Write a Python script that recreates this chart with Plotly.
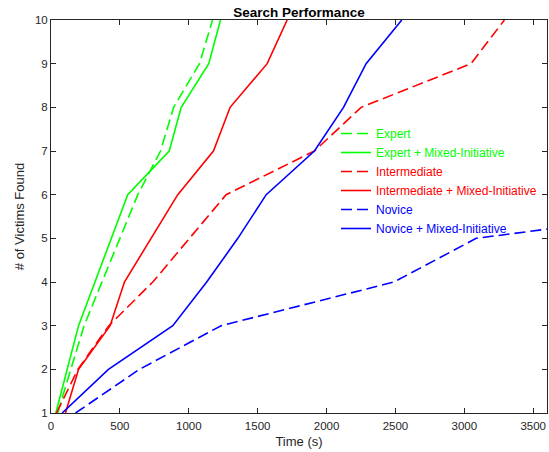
import plotly.graph_objects as go

# ---- data ----
expert_x = [48, 146, 240, 630, 795, 890, 1078, 1172]
expert_y = [1, 2, 3, 6, 7, 8, 9, 10]

expert_mi_x = [35, 200, 557, 858, 945, 1145, 1230]
expert_mi_y = [1, 3, 6, 7, 8, 9, 10]

inter_x = [40, 195, 420, 739, 1005, 1271, 1912, 2251, 3049, 3291]
inter_y = [1, 2, 3, 4, 5, 6, 7, 8, 9, 10]

inter_mi_x = [105, 200, 429, 533, 920, 1179, 1300, 1569, 1714]
inter_mi_y = [1, 2, 3, 4, 6, 7, 8, 9, 10]

novice_x = [178, 642, 1235, 2490, 3086, 3600]
novice_y = [1, 2, 3, 4, 5, 5.21]

novice_mi_x = [81, 417, 884, 1130, 1356, 1562, 1912, 2123, 2287, 2546]
novice_mi_y = [1, 2, 3, 4, 5, 6, 7, 8, 9, 10]

series = [
    ("Expert", expert_x, expert_y, "#00ff00", "11px,5px"),
    ("Expert + Mixed-Initiative", expert_mi_x, expert_mi_y, "#00ff00", "solid"),
    ("Intermediate", inter_x, inter_y, "#ff0000", "11px,5px"),
    ("Intermediate + Mixed-Initiative", inter_mi_x, inter_mi_y, "#ff0000", "solid"),
    ("Novice", novice_x, novice_y, "#0000ff", "11px,5px"),
    ("Novice + Mixed-Initiative", novice_mi_x, novice_mi_y, "#0000ff", "solid"),
]

x_ticks = [0, 500, 1000, 1500, 2000, 2500, 3000, 3500]
y_ticks = [1, 2, 3, 4, 5, 6, 7, 8, 9, 10]

fig = go.Figure()
for name, xs, ys, color, dash in series:
    fig.add_trace(go.Scatter(
        x=xs, y=ys, mode="lines",
        name=f'<span style="color:{color}">{name}</span>',
        line=dict(color=color, width=1.6, dash=dash),
    ))

axis_color = "#262626"
fig.update_layout(
    width=549, height=452,
    margin=dict(l=51, r=2, t=20, b=39),
    plot_bgcolor="white", paper_bgcolor="white",
    font=dict(family="Liberation Sans, Arial, sans-serif", color=axis_color, size=11.5),
    title=dict(text="<b>Search Performance</b>", x=299 / 549, xanchor="center",
               y=1 - 12 / 452, yanchor="middle", font=dict(size=13.5, color="#000000")),
    showlegend=True,
    legend=dict(x=(336 - 51) / 496, xanchor="left", y=(413 - 119) / 393, yanchor="top",
                bgcolor="rgba(255,255,255,0)", borderwidth=0,
                font=dict(size=12)),
    xaxis=dict(range=[0, 3600], tickvals=x_ticks, showgrid=False, zeroline=False,
               showline=True, linecolor=axis_color, linewidth=1, mirror="ticks",
               ticks="inside", ticklen=5, tickcolor=axis_color, ticklabelstandoff=2,
               title=dict(text="Time (s)", font=dict(size=13), standoff=6)),
    yaxis=dict(range=[1, 10], tickvals=y_ticks, showgrid=False, zeroline=False,
               showline=True, linecolor=axis_color, linewidth=1, mirror="ticks",
               ticks="inside", ticklen=5, tickcolor=axis_color,
               title=dict(text="# of Victims Found", font=dict(size=13), standoff=7)),
)

fig.write_html("out.html", config={"displayModeBar": False},
               post_script="document.body.style.margin='0px';")
